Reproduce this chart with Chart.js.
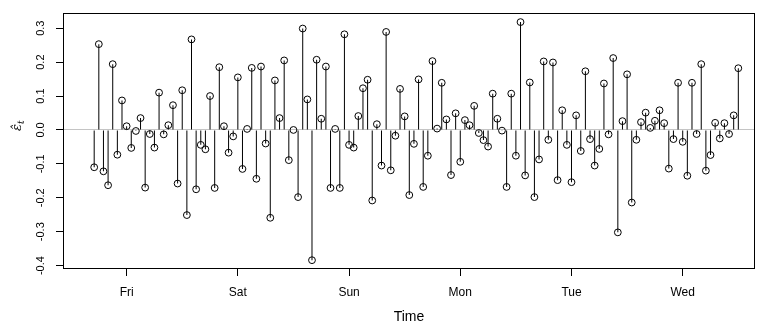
<!DOCTYPE html>
<html>
<head>
<meta charset="utf-8">
<script src="https://cdn.jsdelivr.net/npm/chart.js@4.4.1/dist/chart.umd.min.js"></script>
<style>
  html, body { margin: 0; padding: 0; background: #fff; }
  canvas { display: block; }
</style>
</head>
<body>
<canvas id="resid" width="760" height="323"></canvas>
<script>
// hourly residuals; the first one is Thu 17:00 (hour -7 counted from Fri 00:00)
const startHour = -7;
const residuals = [
  -0.110, 0.253, -0.122, -0.163, 0.194, -0.073, 0.087, 0.011, -0.053, -0.003,
  0.035, -0.170, -0.012, -0.052, 0.110, -0.013, 0.014, 0.073, -0.158, 0.117,
  -0.251, 0.267, -0.175, -0.044, -0.057, 0.100, -0.171, 0.185, 0.011, -0.067,
  -0.019, 0.155, -0.115, 0.003, 0.183, -0.144, 0.187, -0.040, -0.259, 0.146,
  0.035, 0.205, -0.089, 0.000, -0.198, 0.299, 0.090, -0.384, 0.207, 0.033,
  0.187, -0.171, 0.003, -0.171, 0.282, -0.044, -0.052, 0.041, 0.123, 0.148,
  -0.208, 0.017, -0.105, 0.289, -0.119, -0.017, 0.121, 0.040, -0.192, -0.041,
  0.149, -0.168, -0.076, 0.203, 0.004, 0.139, 0.031, -0.133, 0.049, -0.094,
  0.029, 0.014, 0.071, -0.009, -0.030, -0.049, 0.107, 0.033, -0.002, -0.168,
  0.107, -0.076, 0.318, -0.134, 0.140, -0.198, -0.087, 0.202, -0.029, 0.199,
  -0.148, 0.058, -0.044, -0.154, 0.043, -0.062, 0.173, -0.027, -0.105, -0.056,
  0.137, -0.013, 0.212, -0.302, 0.026, 0.164, -0.214, -0.029, 0.023, 0.051,
  0.006, 0.027, 0.058, 0.020, -0.114, -0.027, 0.139, -0.035, -0.135, 0.139,
  -0.012, 0.194, -0.120, -0.074, 0.021, -0.025, 0.020, -0.012, 0.043, 0.182
];
const dayTicks = [0, 24, 48, 72, 96, 120];
const dayLabels = ["Fri", "Sat", "Sun", "Mon", "Tue", "Wed"];
const yTicks = [-0.4, -0.3, -0.2, -0.1, 0, 0.1, 0.2, 0.3];

const points = residuals.map((v, i) => ({ x: startHour + i, y: v }));

Chart.defaults.font.family = "'Liberation Sans', Arial, sans-serif";
Chart.defaults.color = "#000";

// R style box around the plot region plus the epsilon-hat axis label
const framePlugin = {
  id: "frame",
  afterDraw(chart) {
    const { ctx, chartArea: a } = chart;
    ctx.save();
    ctx.strokeStyle = "#000";
    ctx.lineWidth = 1;
    ctx.strokeRect(Math.round(a.left) + 0.5, Math.round(a.top) + 0.5,
      Math.round(a.right - a.left) - 1, Math.round(a.bottom - a.top) - 1);

    ctx.translate(17, 125);
    ctx.rotate(-Math.PI / 2);
    ctx.textBaseline = "alphabetic";
    ctx.textAlign = "left";
    ctx.font = "italic 13px 'DejaVu Serif', serif";
    const eps = "\u03b5\u0302";
    const w = ctx.measureText(eps).width;
    const subW = 5;
    const x0 = -(w + subW) / 2;
    ctx.fillText(eps, x0, 4);
    ctx.font = "italic 9px 'DejaVu Serif', serif";
    ctx.fillText("t", x0 + w, 7);
    ctx.restore();
  }
};

new Chart(document.getElementById("resid"), {
  type: "bar",
  data: {
    datasets: [
      {
        type: "scatter",
        data: points,
        borderColor: "#000",
        backgroundColor: "rgba(0,0,0,0)",
        pointRadius: 3.4,
        pointBorderWidth: 1,
        order: 1
      },
      {
        type: "bar",
        data: points,
        backgroundColor: "#000",
        barThickness: 1,
        inflateAmount: 0,
        borderWidth: 0,
        order: 2
      }
    ]
  },
  options: {
    responsive: false,
    animation: false,
    layout: { padding: { top: 9, right: 0, left: 0, bottom: 0 } },
    plugins: { legend: { display: false }, tooltip: { enabled: false } },
    scales: {
      x: {
        type: "linear",
        min: -13.73,
        max: 135.6,
        offset: false,
        afterBuildTicks: s => { s.ticks = dayTicks.map(v => ({ value: v })); },
        afterFit: s => { s.height = 54; },
        grid: { offset: false, drawOnChartArea: false, tickLength: 7, tickColor: "#000", color: "#000" },
        border: { display: false },
        ticks: {
          autoSkip: false,
          maxRotation: 0,
          padding: 9,
          font: { size: 12 },
          callback: v => dayLabels[dayTicks.indexOf(v)]
        },
        title: { display: true, text: "Time", font: { size: 14 }, padding: { top: 0, bottom: -3 } }
      },
      y: {
        min: -0.41,
        max: 0.346,
        afterBuildTicks: s => { s.ticks = yTicks.map(v => ({ value: v })); },
        afterFit: s => { s.width = 63; },
        grid: {
          drawOnChartArea: true,
          tickLength: 7,
          tickColor: "#000",
          color: c => (c.tick && c.tick.value === 0 ? "#c4c4c4" : "rgba(0,0,0,0)")
        },
        border: { display: false },
        ticks: {
          minRotation: 90,
          maxRotation: 90,
          crossAlign: "center",
          padding: 6,
          font: { size: 11 },
          callback: v => v.toFixed(1)
        }
      }
    }
  },
  plugins: [framePlugin]
});
</script>
</body>
</html>
